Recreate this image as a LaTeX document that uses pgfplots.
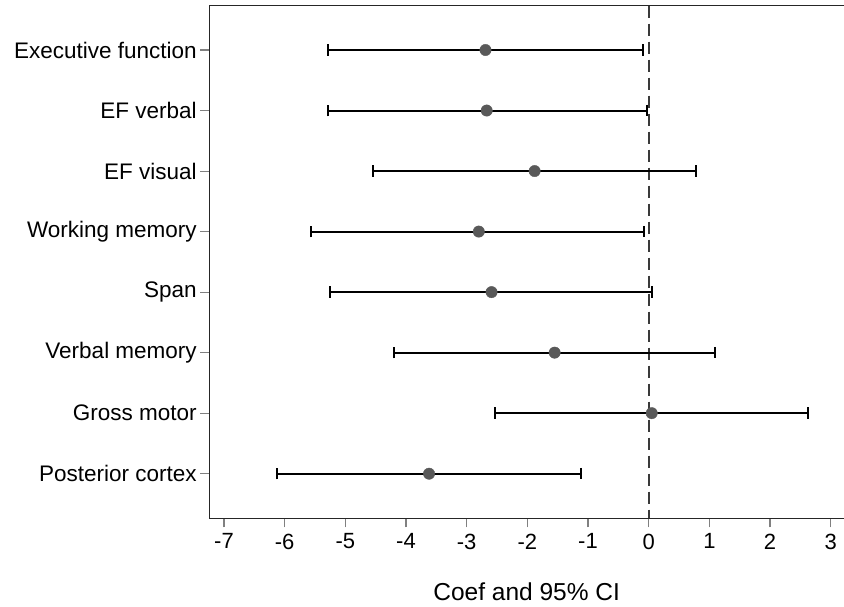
\documentclass[border=0pt]{standalone}
\usepackage{fontspec}
\setmainfont{Liberation Sans}
\usepackage{pgfplots}
\usepackage{pgfplotstable}
\pgfplotsset{compat=1.18}
\definecolor{dotgray}{HTML}{595959}
\definecolor{dashgray}{HTML}{3A3A3A}
\pgfplotstableread{
y x lo hi
1 -2.69 -5.28 -0.09
2 -2.67 -5.29 -0.03
3 -1.88 -4.54 0.78
4 -2.80 -5.56 -0.07
5 -2.59 -5.25 0.06
6 -1.55 -4.19 1.09
7 0.05 -2.53 2.63
8 -3.62 -6.12 -1.12
}\data
\begin{document}
\begin{tikzpicture}[font=\fontsize{22.5}{27}\selectfont]
\path[use as bounding box] (-209.3pt,-88.7pt) rectangle (634.7pt,518.3pt);
\begin{axis}[
  at={(0,0)}, anchor=south west,
  scale only axis, width=634.7pt, height=512.6pt,
  xmin=-7.242, xmax=3.219, ymin=0.268, ymax=8.737, y dir=reverse,
  axis x line=box, axis y line=left,
  axis line style={-, line width=1.3pt, black!85},
  xtick={-7,-6,-5,-4,-3,-2,-1,0,1,2,3},
  ytick={1,2,3,4,5,6,7,8},
  yticklabels={Executive function,EF verbal,EF visual,Working memory,Span,Verbal memory,Gross motor,Posterior cortex},
  xtick pos=lower, ytick pos=left,
  tick align=outside, major tick length=9pt,
  tick style={gray, line width=1.1pt},
  xticklabel style={font=\fontsize{22}{26}\selectfont, yshift=-3pt},
  /pgf/number format/assume math mode=true,
  xlabel={Coef and 95\% CI},
  xlabel style={font=\fontsize{24.5}{29}\selectfont, at={(axis description cs:0.5,0)}, anchor=base, yshift=-81.7pt},
  clip=false,
]
\addplot[dashgray, line width=2pt, dash pattern=on 12pt off 6pt, forget plot] coordinates {(0,0.268) (0,8.737)};
\addplot[only marks, mark=*, mark size=5.7pt, mark options={fill=dotgray, draw=dotgray},
  error bars/.cd, x dir=both, x explicit,
  error bar style={line width=2pt, black},
  error mark options={rotate=90, line width=2pt, black, mark size=5.8pt}]
  table[x=x, y=y, x error plus expr=\thisrow{hi}-\thisrow{x}, x error minus expr=\thisrow{x}-\thisrow{lo}] {\data};
\end{axis}
\end{tikzpicture}
\end{document}
